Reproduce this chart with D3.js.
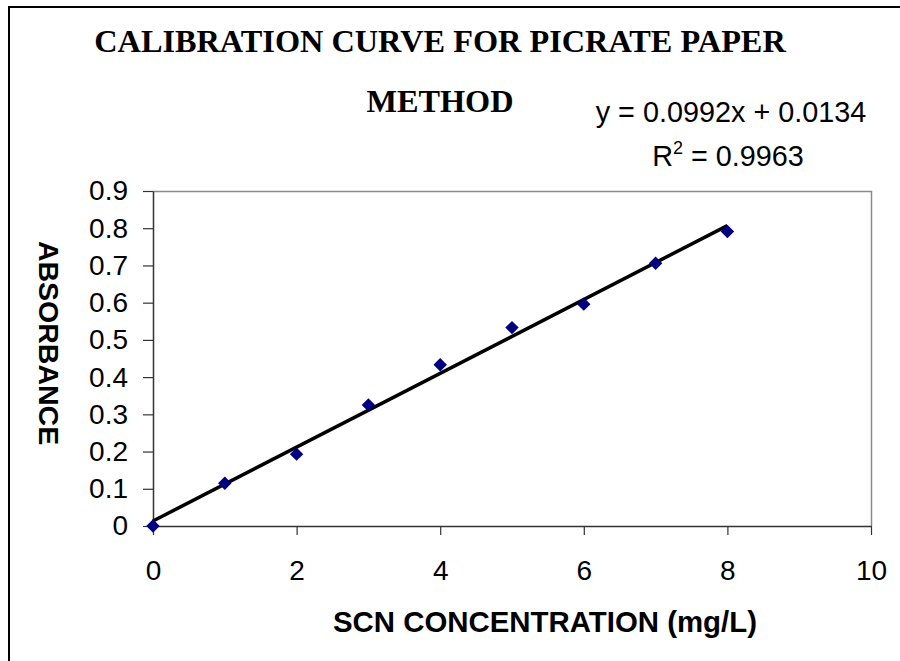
<!DOCTYPE html>
<html>
<head>
<meta charset="utf-8">
<script src="https://cdn.jsdelivr.net/npm/d3@7"></script>
<style>
  body { margin: 0; background: #fff; }
  svg { display: block; }
</style>
</head>
<body>
<div id="chart"></div>
<script>
// chart values
const concentration = [0, 1, 2, 3, 4, 5, 6, 7, 8]
const absorbance = [0, 0.115, 0.193, 0.325, 0.433, 0.533, 0.596, 0.706, 0.791]
const slope = 0.0992
const intercept = 0.0134
const xTicks = [0, 2, 4, 6, 8, 10]
const yTicks = [0, 0.1, 0.2, 0.3, 0.4, 0.5, 0.6, 0.7, 0.8, 0.9]
const titleLines = ['CALIBRATION CURVE FOR PICRATE PAPER', 'METHOD']
const equationText = 'y = 0.0992x + 0.0134'
const rSquared = '0.9963'

const width = 900, height = 661
const plot = {left: 153, right: 871, top: 191, bottom: 526}

const svg = d3.select('#chart').append('svg')
  .attr('width', width)
  .attr('height', height)

// outer frame (only left + top are visible in the window)
svg.append('path')
  .attr('d', `M9,${height + 5} V7 H${width + 5}`)
  .attr('fill', 'none')
  .attr('stroke', '#000')
  .attr('stroke-width', 2)

const x = d3.scaleLinear().domain([0, 10]).range([plot.left, plot.right])
const y = d3.scaleLinear().domain([0, 0.9]).range([plot.bottom, plot.top])

// plot frame, grey top + right
svg.append('path')
  .attr('d', `M${plot.left},${plot.top + 0.5} H${plot.right + 0.5} V${plot.bottom}`)
  .attr('fill', 'none')
  .attr('stroke', '#8a8a8a')
  .attr('stroke-width', 1.5)

const axisFont = 'Arial, "Liberation Sans", sans-serif'

// x axis
const gx = svg.append('g')
  .attr('transform', `translate(0,${plot.bottom})`)
  .call(d3.axisBottom(x).tickValues(xTicks).tickSize(9).tickPadding(25).tickSizeOuter(0))
gx.select('.domain').attr('stroke', '#333').attr('stroke-width', 1.5)
gx.selectAll('.tick line').attr('stroke', '#333').attr('stroke-width', 1.2)
gx.selectAll('.tick text')
  .attr('font-family', axisFont)
  .attr('font-size', 28)
  .attr('fill', '#000')

// y axis
const gy = svg.append('g')
  .attr('transform', `translate(${plot.left},0)`)
  .call(d3.axisLeft(y).tickValues(yTicks).tickSize(10).tickPadding(15).tickSizeOuter(0)
    .tickFormat(d => d === 0 ? '0' : d3.format('.1f')(d)))
gy.select('.domain').attr('stroke', '#333').attr('stroke-width', 1.5)
gy.selectAll('.tick line').attr('stroke', '#333').attr('stroke-width', 1.2)
gy.selectAll('.tick text')
  .attr('font-family', axisFont)
  .attr('font-size', 28)
  .attr('fill', '#000')

// trend line
svg.append('line')
  .attr('x1', x(0)).attr('y1', y(intercept))
  .attr('x2', x(8)).attr('y2', y(slope * 8 + intercept))
  .attr('stroke', '#000')
  .attr('stroke-width', 3.5)

// diamond markers
const pts = concentration.map((c, i) => ({c: c, a: absorbance[i]}))
svg.append('g').selectAll('path')
  .data(pts)
  .enter()
  .append('path')
  .attr('d', d3.symbol().type(d3.symbolSquare).size(90))
  .attr('transform', d => `translate(${x(d.c)},${y(d.a)}) rotate(45)`)
  .attr('fill', '#000080')

// title
svg.append('g').selectAll('text')
  .data(titleLines)
  .enter()
  .append('text')
  .attr('x', 440)
  .attr('y', (d, i) => 52 + i * 60)
  .attr('text-anchor', 'middle')
  .attr('font-family', '"Times New Roman", "Liberation Serif", serif')
  .attr('font-weight', 'bold')
  .attr('font-size', 32.3)
  .text(d => d)

// regression label
svg.append('text')
  .attr('x', 731).attr('y', 122)
  .attr('text-anchor', 'middle')
  .attr('font-family', axisFont)
  .attr('font-size', 28.8)
  .text(equationText)

const r2 = svg.append('text')
  .attr('x', 728).attr('y', 166)
  .attr('text-anchor', 'middle')
  .attr('font-family', axisFont)
  .attr('font-size', 28.8)
r2.append('tspan').text('R')
r2.append('tspan').attr('dy', -12).attr('font-size', 18).text('2')
r2.append('tspan').attr('dy', 12).text(' = ' + rSquared)

// axis titles
svg.append('text')
  .attr('x', 545).attr('y', 632)
  .attr('text-anchor', 'middle')
  .attr('font-family', axisFont)
  .attr('font-weight', 'bold')
  .attr('font-size', 29.4)
  .text('SCN CONCENTRATION (mg/L)')

svg.append('text')
  .attr('transform', 'translate(39,343) rotate(90)')
  .attr('text-anchor', 'middle')
  .attr('font-family', axisFont)
  .attr('font-weight', 'bold')
  .attr('font-size', 28.5)
  .text('ABSORBANCE')
</script>
</body>
</html>
